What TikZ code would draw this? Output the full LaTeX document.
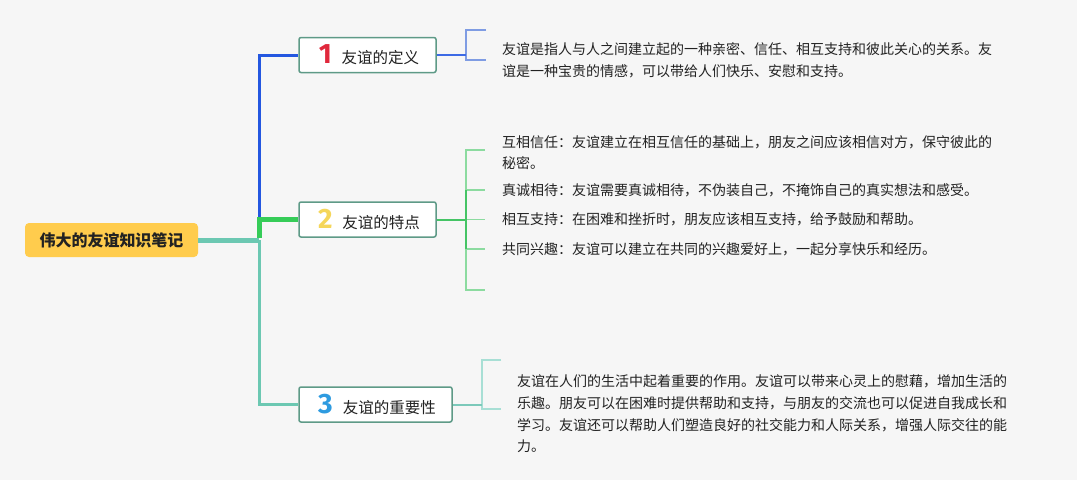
\documentclass[tikz,border=0pt]{standalone}
\usepackage{fontspec}
\setmainfont{Noto Sans CJK SC}
\newfontfamily\numfont{Fira Sans}
\definecolor{bgc}{HTML}{F6F6F6}
\definecolor{rootc}{HTML}{FFCC4D}
\definecolor{boxc}{HTML}{5E9A87}
\definecolor{bluec}{HTML}{2457E0}
\definecolor{bluem}{HTML}{3D6AE5}
\definecolor{blueb}{HTML}{7F9CE3}
\definecolor{greenc}{HTML}{36CC58}
\definecolor{greenm}{HTML}{45C465}
\definecolor{greenb}{HTML}{8CDBA0}
\definecolor{tealc}{HTML}{6CC8B2}
\definecolor{tealm}{HTML}{7CC9BA}
\definecolor{tealb}{HTML}{A8DFD5}
\definecolor{numr}{HTML}{E0283C}
\definecolor{numy}{HTML}{F5D65A}
\definecolor{numb}{HTML}{2E9BE0}
\definecolor{txtc}{HTML}{222222}
\tikzset{
  rootbox/.style={fill=rootc, rounded corners=4pt, minimum width=173pt, minimum height=34pt, inner sep=0pt,
    font=\bfseries\fontsize{16}{18}\selectfont, text=txtc},
  topic/.style={draw=boxc, line width=1.5pt, fill=white, rounded corners=2pt, minimum height=35pt, inner sep=0pt,
    font=\fontsize{15.5}{18}\selectfont, text=txtc},
  desc/.style={anchor=west, align=left, inner sep=0pt, text=txtc, font=\fontsize{14}{22}\selectfont},
  descb/.style={anchor=west, align=left, inner sep=0pt, text=txtc, font=\fontsize{14}{21}\selectfont},
  bline/.style={draw=bluec, line width=3pt},
  gline/.style={draw=greenc, line width=5pt},
  tthick/.style={draw=tealc, line width=5pt},
  tthin/.style={draw=tealc, line width=3pt},
  bcon/.style={draw=bluem, line width=2pt},
  gcon/.style={draw=greenm, line width=2pt},
  tcon/.style={draw=tealm, line width=2pt},
  bbr/.style={draw=blueb, line width=1.6pt},
  gbr/.style={draw=greenb, line width=1.6pt},
  tbr/.style={draw=tealb, line width=1.6pt},
}
\newcommand{\bignum}[2]{{\color{#1}\numfont\bfseries\fontsize{28}{28}\selectfont #2}}
\begin{document}
\begin{tikzpicture}[x=1pt,y=-1pt]
\fill[bgc] (0,0) rectangle (1077,480);
\useasboundingbox (0,0) rectangle (1077,480);

% root and topics
\node[rootbox] (root) at (111.5,240) {伟大的友谊知识笔记};
\node[topic, minimum width=137pt] (t1) at (367.5,55) {\hspace{3pt}\bignum{numr}{1}\hspace{10pt}友谊的定义};
\node[topic, minimum width=137pt] (t2) at (367.5,219.5) {\hspace{3pt}\bignum{numy}{2}\hspace{10pt}友谊的特点};
\node[topic, minimum width=153pt] (t3) at (375.5,404.5) {\hspace{3pt}\bignum{numb}{3}\hspace{10pt}友谊的重要性};

% junctions
\coordinate (jr) at (259,240);
\coordinate (jg) at (259,219.5);

% trunk connectors
\draw[tthick] (root.east) -- (jr);
\draw[tthin] (jr) |- (t3.west);
\draw[bline] (jg) |- (t1.west);
\draw[gline] ([yshift=2pt]jr) |- (t2.west);

% bracket 1
\coordinate (b1) at (466,55);
\coordinate (b1t) at (486,30);
\coordinate (b1b) at (486,60);
\draw[bbr] (b1t) -- (466,30) -- (466,60) -- (b1b);
\draw[bcon] (t1.east) -- (b1);

% bracket 2
\coordinate (b2) at (466,219.5);
\coordinate (b2a) at (485,150);
\coordinate (b2b) at (485,190);
\coordinate (b2c) at (485,219.5);
\coordinate (b2d) at (485,249);
\coordinate (b2e) at (485,290);
\draw[gbr] (b2a) -- (466,150) -- (466,290) -- (b2e);
\draw[gbr] (466,190) -- (b2b);
\draw[gbr] (b2) -- (b2c);
\draw[gbr] (466,249) -- (b2d);
\draw[gcon] (466,190) -- (466,249);
\draw[gcon] (t2.east) -- (b2);

% bracket 3
\coordinate (b3) at (482,404.5);
\coordinate (b3t) at (501,360);
\coordinate (b3b) at (501,409);
\draw[tbr] (b3t) -- (482,360) -- (482,409) -- (b3b);
\draw[tcon] (t3.east) -- (b3);

% descriptions
\node[desc] (d1) at (502,60.5) {友谊是指人与人之间建立起的一种亲密、信任、相互支持和彼此关心的关系。友\\谊是一种宝贵的情感，可以带给人们快乐、安慰和支持。};
\node[descb] (d2a) at (502,152.5) {互相信任：友谊建立在相互信任的基础上，朋友之间应该相信对方，保守彼此的\\秘密。};
\node[descb] (d2b) at (502,190) {真诚相待：友谊需要真诚相待，不伪装自己，不掩饰自己的真实想法和感受。};
\node[descb] (d2c) at (502,219.5) {相互支持：在困难和挫折时，朋友应该相互支持，给予鼓励和帮助。};
\node[descb] (d2d) at (502,249) {共同兴趣：友谊可以建立在共同的兴趣爱好上，一起分享快乐和经历。};
\node[desc, font=\fontsize{14}{21.7}\selectfont] (d3) at (517,414) {友谊在人们的生活中起着重要的作用。友谊可以带来心灵上的慰藉，增加生活的\\乐趣。朋友可以在困难时提供帮助和支持，与朋友的交流也可以促进自我成长和\\学习。友谊还可以帮助人们塑造良好的社交能力和人际关系，增强人际交往的能\\力。};
\end{tikzpicture}
\end{document}
